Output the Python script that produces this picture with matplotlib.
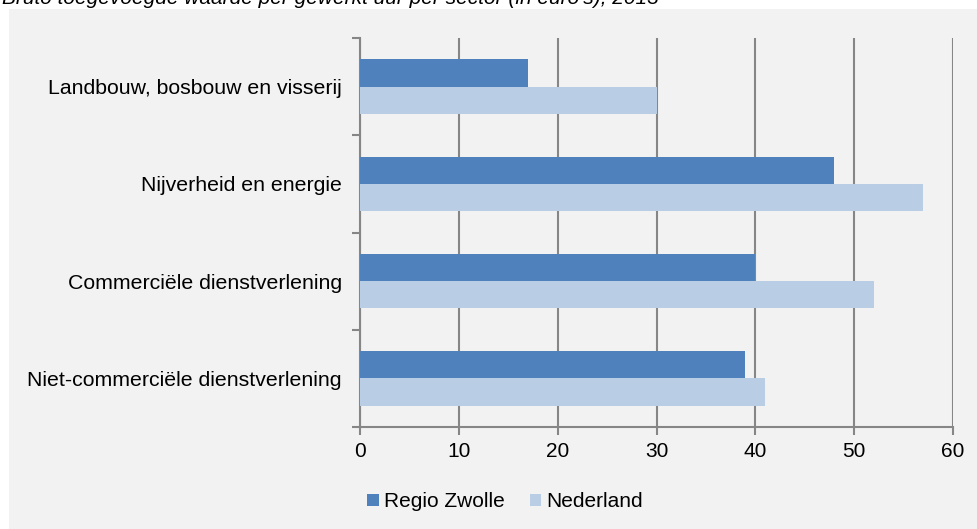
import numpy as np
from matplotlib import pyplot as plt
from matplotlib.patches import Rectangle

# Data
sectors = ["Landbouw, bosbouw en visserij", "Nijverheid en energie",
           "Commerciële dienstverlening", "Niet-commerciële dienstverlening"]
zwolle = [17, 48, 40, 39]
nederland = [30, 57, 52, 41]
series_names = ["Regio Zwolle", "Nederland"]
title = "Bruto toegevoegde waarde per gewerkt uur per sector (in euro's), 2013"

plt.rcParams['font.family'] = ['Liberation Sans', 'DejaVu Sans']
fs = 15

fig = plt.figure(figsize=(9.78, 5.29), dpi=100)
fig.patch.set_facecolor("white")
# grey panel
fig.add_artist(Rectangle((9 / 978, 0), 1, 1 - 9 / 529, transform=fig.transFigure,
                         facecolor="#F2F2F2", edgecolor="none", zorder=-1))
# title, cut off at the top like the reference
fig.text(2 / 978, 1 - 4 / 529, title, fontsize=fs, style="italic",
         va="baseline", ha="left")

ax = fig.add_axes([360 / 978, 1 - 427 / 529, (953 - 360) / 978, (427 - 38) / 529])
ax.set_facecolor("none")

y = np.arange(len(sectors))
h = 0.28
ax.barh(y - h / 2, zwolle, height=h, color="#4F81BD", label=series_names[0], zorder=3)
ax.barh(y + h / 2, nederland, height=h, color="#B9CDE5", label=series_names[1], zorder=3)

ax.set_xlim(0, 60)
ax.set_ylim(len(sectors) - 0.5, -0.5)
ax.set_xticks(range(0, 61, 10))
ax.set_yticks(y)
ax.set_yticklabels(sectors)
ax.set_yticks(np.arange(-0.5, len(sectors), 1), minor=True)
ax.tick_params(axis="y", which="major", length=0, pad=13, labelsize=15.3)
ax.tick_params(axis="y", which="minor", length=6, width=1.5, color="#868686", direction="out")
ax.tick_params(axis="x", length=6, width=1.5, color="#868686", labelsize=fs, pad=5)
ax.grid(axis="x", color="#868686", linewidth=1.5, zorder=0)
for s in ["top", "right"]:
    ax.spines[s].set_visible(False)
for s in ["left", "bottom"]:
    ax.spines[s].set_color("#868686")
    ax.spines[s].set_linewidth(1.5)

ax.legend(loc="upper left", bbox_to_anchor=(-0.012, -0.13), ncol=2, frameon=False,
          fontsize=fs, handlelength=0.55, handleheight=0.55, handletextpad=0.25,
          columnspacing=1.2, borderpad=0.2)

plt.savefig("out.png", dpi=100, facecolor=fig.get_facecolor())
